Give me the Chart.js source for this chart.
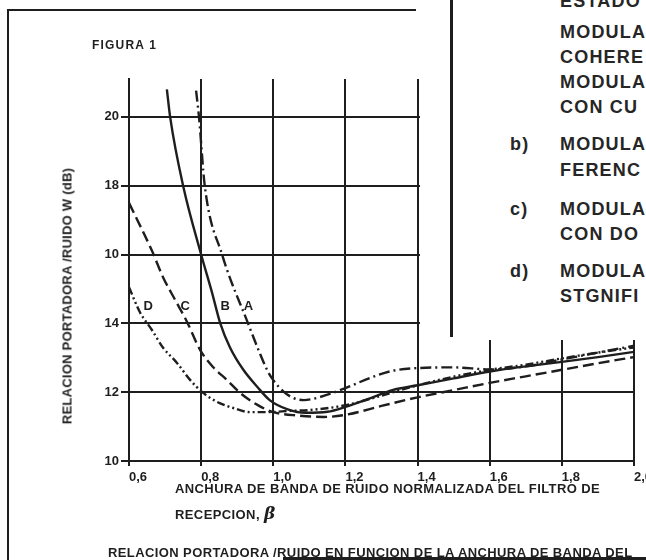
<!DOCTYPE html>
<html>
<head>
<meta charset="utf-8">
<script src="https://cdn.jsdelivr.net/npm/chart.js@4.4.1/dist/chart.umd.min.js"></script>
<style>
  body { margin: 0; background: #fff; }
  #page { position: relative; width: 646px; height: 560px; overflow: hidden; background: #fff;
          font-family: "Liberation Sans", Arial, sans-serif; font-weight: bold; color: #1e1e1e; }
  #wrap { position: absolute; left: 0; top: 0; width: 646px; height: 560px; }
  .txt { position: absolute; white-space: nowrap; }
  .line { position: absolute; background: #1e1e1e; }
  #panel { position: absolute; left: 420px; top: 0; width: 226px; height: 340px; background: #fff; overflow: hidden; }
  #panel .txt { font-size: 18px; line-height: 18px; letter-spacing: 1.2px; color: #262626; }
</style>
</head>
<body>
<div id="page">
  <div id="wrap"><canvas id="chart"></canvas></div>

  <div class="line" style="left:7px; top:9px; width:2px; height:560px;"></div>
  <div class="line" style="left:7px; top:9px; width:409px; height:2px;"></div>

  <div class="txt" style="left:92px; top:39px; font-size:12px; line-height:12px; letter-spacing:1.2px;">FIGURA 1</div>

  <div class="txt" style="left:67px; top:296px; font-size:13px; line-height:13px; letter-spacing:0.25px; transform:translate(-50%,-50%) rotate(-90deg);">RELACION PORTADORA /RUIDO W (dB)</div>

  <div class="txt" style="left:175px; top:482px; font-size:13px; line-height:13px; letter-spacing:0.4px;">ANCHURA DE BANDA DE RUIDO NORMALIZADA DEL FILTRO DE</div>
  <div class="txt" style="left:175px; top:505px; font-size:13px; line-height:16px; letter-spacing:0.4px;">RECEPCION, <span style="font-family:'DejaVu Serif',serif; font-style:italic; font-size:17px;">β</span></div>

  <div class="txt" style="left:108px; top:546px; font-size:13px; line-height:13px; letter-spacing:0.4px;">RELACION PORTADORA /RUIDO EN FUNCION DE LA ANCHURA DE BANDA DEL</div>
  <div class="line" style="left:283px; top:557px; width:363px; height:3px;"></div>

  <div id="panel">
    <div class="line" style="left:30px; top:0; width:3px; height:337px;"></div>
    <div class="txt" style="left:140px; top:-8px;">ESTADO</div>
    <div class="txt" style="left:140px; top:23px;">MODULA</div>
    <div class="txt" style="left:140px; top:48px;">COHERE</div>
    <div class="txt" style="left:140px; top:73px;">MODULA</div>
    <div class="txt" style="left:140px; top:98px;">CON CU</div>
    <div class="txt" style="left:90px; top:135px;">b)</div>
    <div class="txt" style="left:140px; top:135px;">MODULA</div>
    <div class="txt" style="left:140px; top:161px;">FERENC</div>
    <div class="txt" style="left:90px; top:200px;">c)</div>
    <div class="txt" style="left:140px; top:200px;">MODULA</div>
    <div class="txt" style="left:140px; top:225px;">CON DO</div>
    <div class="txt" style="left:90px; top:262px;">d)</div>
    <div class="txt" style="left:140px; top:262px;">MODULA</div>
    <div class="txt" style="left:140px; top:287px;">STGNIFI</div>
  </div>
</div>

<script>
// ticks
const xTicks = [0.6, 0.8, 1.0, 1.2, 1.4, 1.6, 1.8, 2.0];
const xTickLabels = ['0,6', '0,8', '1,0', '1,2', '1,4', '1,6', '1,8', '2,0'];
const yTicks = [10, 12, 14, 16, 18, 20];
const yTickLabels = ['10', '12', '14', '10', '18', '20'];

// curve A (dash-dot)
const xA = [0.786, 0.794, 0.81, 0.858, 0.93, 0.96, 0.985, 1.0, 1.03, 1.056, 1.085, 1.13, 1.2, 1.27, 1.33, 1.4, 1.5, 1.6, 1.7, 1.8, 1.9, 2.0];
const yA = [20.76, 20.0, 18.0, 16.0, 14.0, 13.2, 12.6, 12.35, 12.0, 11.83, 11.77, 11.86, 12.12, 12.42, 12.62, 12.7, 12.72, 12.66, 12.75, 12.95, 13.15, 13.35];

// curve B (solid)
const xB = [0.705, 0.714, 0.75, 0.80, 0.83, 0.853, 0.88, 0.917, 0.956, 0.99, 1.04, 1.09, 1.15, 1.2, 1.27, 1.33, 1.4, 1.5, 1.6, 1.7, 1.8, 1.9, 2.0];
const yB = [20.8, 20.0, 18.0, 16.0, 14.9, 14.0, 13.3, 12.65, 12.15, 11.77, 11.5, 11.4, 11.43, 11.57, 11.83, 12.06, 12.2, 12.4, 12.6, 12.75, 12.88, 13.02, 13.17];

// curve C (dashed)
const xC = [0.6, 0.664, 0.694, 0.728, 0.761, 0.797, 0.833, 0.872, 0.908, 0.956, 1.0, 1.07, 1.14, 1.2, 1.3, 1.4, 1.5, 1.6, 1.7, 1.8, 1.9, 2.0];
const yC = [17.5, 16.1, 15.35, 14.68, 14.04, 13.23, 12.73, 12.35, 11.98, 11.63, 11.42, 11.32, 11.28, 11.34, 11.6, 11.85, 12.06, 12.27, 12.46, 12.65, 12.84, 13.02];

// curve D (dash-dot-dot)
const xD = [0.6, 0.63, 0.664, 0.694, 0.733, 0.77, 0.803, 0.844, 0.889, 0.936, 0.983, 1.05, 1.1, 1.2, 1.3, 1.4, 1.5, 1.6, 1.7, 1.8, 1.9, 2.0];
const yD = [15.05, 14.33, 13.8, 13.3, 12.85, 12.35, 12.0, 11.72, 11.54, 11.42, 11.42, 11.46, 11.48, 11.62, 11.9, 12.2, 12.45, 12.65, 12.8, 12.98, 13.15, 13.3];

// curve letters
const curveNames = ['D', 'C', 'B', 'A'];
const curveNameX = [0.653, 0.756, 0.867, 0.931];
const curveNameY = [14.48, 14.48, 14.48, 14.48];

const ink = '#1e1e1e';

function pts(xs, ys) {
    return xs.map(function (x, i) { return { x: x, y: ys[i] }; });
}

function curve(label, xs, ys, dash) {
    return {
        label: label,
        data: pts(xs, ys),
        borderColor: ink,
        borderWidth: 2.4,
        borderDash: dash,
        pointRadius: 0,
        fill: false,
        cubicInterpolationMode: 'monotone'
    };
}

const curveLetters = {
    id: 'curveLetters',
    afterDatasetsDraw: function (chart) {
        const ctx = chart.ctx;
        const xs = chart.scales.x;
        const ys = chart.scales.y;
        ctx.save();
        ctx.fillStyle = ink;
        ctx.font = 'bold 13px "Liberation Sans", Arial, sans-serif';
        ctx.textAlign = 'center';
        ctx.textBaseline = 'middle';
        curveNames.forEach(function (n, i) {
            ctx.fillText(n, xs.getPixelForValue(curveNameX[i]), ys.getPixelForValue(curveNameY[i]));
        });
        ctx.restore();
    }
};

document.addEventListener('DOMContentLoaded', function () {
    const tickFont = { family: '"Liberation Sans", Arial, sans-serif', weight: 'bold', size: 13 };

    new Chart(document.getElementById('chart').getContext('2d'), {
        type: 'line',
        data: {
            datasets: [
                curve('A', xA, yA, [11, 4, 2, 4]),
                curve('B', xB, yB, []),
                curve('C', xC, yC, [11, 5]),
                curve('D', xD, yD, [8, 3, 2, 3, 2, 3])
            ]
        },
        options: {
            responsive: true,
            maintainAspectRatio: false,
            animation: false,
            layout: { padding: { left: 0, top: 79, right: 12, bottom: 0 } },
            plugins: { legend: { display: false }, tooltip: { enabled: false } },
            scales: {
                x: {
                    type: 'linear',
                    min: 0.6,
                    max: 2.0,
                    afterBuildTicks: function (s) { s.ticks = xTicks.map(function (v) { return { value: v }; }); },
                    afterFit: function (s) { s.height = 99; s.paddingLeft = 0; s.paddingRight = 0; },
                    ticks: {
                        align: 'start',
                        padding: 4,
                        color: ink,
                        font: tickFont,
                        maxRotation: 0,
                        callback: function (v, i) { return xTickLabels[i]; }
                    },
                    grid: { color: ink, lineWidth: 2, tickLength: 5 },
                    border: { color: ink, width: 2 }
                },
                y: {
                    min: 10,
                    max: 21.1,
                    afterBuildTicks: function (s) { s.ticks = yTicks.map(function (v) { return { value: v }; }); },
                    afterFit: function (s) { s.width = 129; s.paddingTop = 0; s.paddingBottom = 0; },
                    ticks: {
                        padding: 2,
                        color: ink,
                        font: tickFont,
                        callback: function (v, i) { return yTickLabels[i]; }
                    },
                    grid: { color: ink, lineWidth: 2, tickLength: 8 },
                    border: { color: ink, width: 2 }
                }
            }
        },
        plugins: [curveLetters]
    });
});
</script>
</body>
</html>
